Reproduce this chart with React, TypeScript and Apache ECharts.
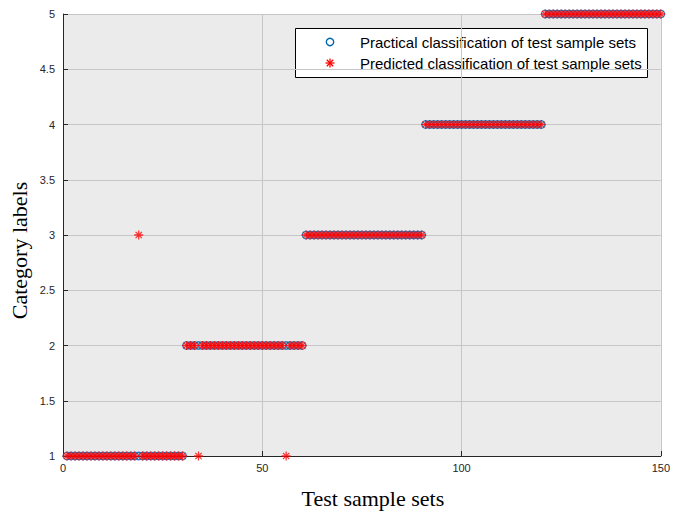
import React, { useEffect, useRef } from "react";
import * as echarts from "echarts";

const sampleIndex: number[] = [
  1, 2, 3, 4, 5, 6, 7, 8, 9, 10, 11, 12, 13, 14, 15, 16, 17, 18, 19, 20, 21, 22, 23, 24, 25, 26, 27, 28, 29, 30,
  31, 32, 33, 34, 35, 36, 37, 38, 39, 40, 41, 42, 43, 44, 45, 46, 47, 48, 49, 50, 51, 52, 53, 54, 55, 56, 57, 58, 59, 60,
  61, 62, 63, 64, 65, 66, 67, 68, 69, 70, 71, 72, 73, 74, 75, 76, 77, 78, 79, 80, 81, 82, 83, 84, 85, 86, 87, 88, 89, 90,
  91, 92, 93, 94, 95, 96, 97, 98, 99, 100, 101, 102, 103, 104, 105, 106, 107, 108, 109, 110, 111, 112, 113, 114, 115, 116, 117, 118, 119, 120,
  121, 122, 123, 124, 125, 126, 127, 128, 129, 130, 131, 132, 133, 134, 135, 136, 137, 138, 139, 140, 141, 142, 143, 144, 145, 146, 147, 148, 149, 150,
];

const practicalClass: number[] = [
  1, 1, 1, 1, 1, 1, 1, 1, 1, 1, 1, 1, 1, 1, 1, 1, 1, 1, 1, 1, 1, 1, 1, 1, 1, 1, 1, 1, 1, 1,
  2, 2, 2, 2, 2, 2, 2, 2, 2, 2, 2, 2, 2, 2, 2, 2, 2, 2, 2, 2, 2, 2, 2, 2, 2, 2, 2, 2, 2, 2,
  3, 3, 3, 3, 3, 3, 3, 3, 3, 3, 3, 3, 3, 3, 3, 3, 3, 3, 3, 3, 3, 3, 3, 3, 3, 3, 3, 3, 3, 3,
  4, 4, 4, 4, 4, 4, 4, 4, 4, 4, 4, 4, 4, 4, 4, 4, 4, 4, 4, 4, 4, 4, 4, 4, 4, 4, 4, 4, 4, 4,
  5, 5, 5, 5, 5, 5, 5, 5, 5, 5, 5, 5, 5, 5, 5, 5, 5, 5, 5, 5, 5, 5, 5, 5, 5, 5, 5, 5, 5, 5,
];

const predictedClass: number[] = [
  1, 1, 1, 1, 1, 1, 1, 1, 1, 1, 1, 1, 1, 1, 1, 1, 1, 1, 3, 1, 1, 1, 1, 1, 1, 1, 1, 1, 1, 1,
  2, 2, 2, 1, 2, 2, 2, 2, 2, 2, 2, 2, 2, 2, 2, 2, 2, 2, 2, 2, 2, 2, 2, 2, 2, 1, 2, 2, 2, 2,
  3, 3, 3, 3, 3, 3, 3, 3, 3, 3, 3, 3, 3, 3, 3, 3, 3, 3, 3, 3, 3, 3, 3, 3, 3, 3, 3, 3, 3, 3,
  4, 4, 4, 4, 4, 4, 4, 4, 4, 4, 4, 4, 4, 4, 4, 4, 4, 4, 4, 4, 4, 4, 4, 4, 4, 4, 4, 4, 4, 4,
  5, 5, 5, 5, 5, 5, 5, 5, 5, 5, 5, 5, 5, 5, 5, 5, 5, 5, 5, 5, 5, 5, 5, 5, 5, 5, 5, 5, 5, 5,
];

const seriesNames = [
  "Practical classification of test sample sets",
  "Predicted classification of test sample sets",
];

const xTickMin = 0;
const xTickMax = 150;
const xTickStep = 50;
const yTickMin = 1;
const yTickMax = 5;
const yTickStep = 0.5;

const asteriskPath =
  "path://M0,4.3 L10,4.3 L10,5.7 L0,5.7 Z " +
  "M4.3,0 L5.7,0 L5.7,10 L4.3,10 Z " +
  "M1.99,1.0 L9.0,8.01 L8.01,9.0 L1.0,1.99 Z " +
  "M8.01,1.0 L9.0,1.99 L1.99,9.0 L1.0,8.01 Z";

export default function App() {
  const ref = useRef<HTMLDivElement>(null);
  useEffect(() => {
    if (!ref.current) return;
    const chart = echarts.init(ref.current, undefined, { renderer: "svg" });
    const axisColor = "#262626";
    const blue = "#0066b0";
    const red = "#ff0000";
    const circleStyle = { color: "rgba(0,0,0,0)", borderColor: blue, borderWidth: 1.4 };
    const legendX = 295;
    const legendY = 28;
    const iconX = 330;
    const textX = 360;
    const rowY = [42, 63];
    const s = 4.5;
    const d = 3.2;
    const starLine = (x1: number, y1: number, x2: number, y2: number) => ({
      type: "line",
      shape: { x1, y1, x2, y2 },
      style: { stroke: red, lineWidth: 1.3 },
      silent: true,
    });
    chart.setOption({
      animation: false,
      backgroundColor: "#ffffff",
      grid: {
        left: 63,
        right: 12,
        top: 14,
        bottom: 57,
        show: true,
        backgroundColor: "#ebebeb",
        borderWidth: 0,
      },
      graphic: [
        {
          type: "group",
          z: 100,
          children: [
            {
              type: "rect",
              shape: { x: legendX + 0.5, y: legendY + 0.5, width: 352, height: 49 },
              style: { fill: "#ffffff", stroke: "#000000", lineWidth: 1 },
              silent: true,
            },
            {
              type: "circle",
              shape: { cx: iconX, cy: rowY[0], r: 3.7 },
              style: { fill: "none", stroke: blue, lineWidth: 1.4 },
              silent: true,
            },
            starLine(iconX - s, rowY[1], iconX + s, rowY[1]),
            starLine(iconX, rowY[1] - s, iconX, rowY[1] + s),
            starLine(iconX - d, rowY[1] - d, iconX + d, rowY[1] + d),
            starLine(iconX - d, rowY[1] + d, iconX + d, rowY[1] - d),
            {
              type: "text",
              x: textX,
              y: rowY[0],
              style: {
                text: seriesNames[0],
                fontFamily: "Liberation Sans, Arial, sans-serif",
                fontSize: 15,
                fill: "#000000",
                verticalAlign: "middle",
                align: "left",
              },
              silent: true,
            },
            {
              type: "text",
              x: textX,
              y: rowY[1],
              style: {
                text: seriesNames[1],
                fontFamily: "Liberation Sans, Arial, sans-serif",
                fontSize: 15,
                fill: "#000000",
                verticalAlign: "middle",
                align: "left",
              },
              silent: true,
            },
          ],
        },
      ],
      xAxis: {
        type: "value",
        min: xTickMin,
        max: xTickMax,
        interval: xTickStep,
        name: "Test sample sets",
        nameLocation: "middle",
        nameGap: 31,
        nameMoveOverlap: false,
        nameTextStyle: {
          fontFamily: "Liberation Serif, Times New Roman, serif",
          fontSize: 22,
          color: "#000000",
          verticalAlign: "top",
          padding: [0, 0, 0, 22],
        },
        axisLine: { show: true, lineStyle: { color: axisColor, width: 1 } },
        axisTick: { show: true, inside: true, length: 5, lineStyle: { color: axisColor } },
        axisLabel: {
          fontFamily: "Liberation Sans, Arial, sans-serif",
          fontSize: 11,
          color: axisColor,
          margin: 6,
        },
        splitLine: { show: true, lineStyle: { color: "#c6c6c6", width: 1 } },
      },
      yAxis: {
        type: "value",
        min: yTickMin,
        max: yTickMax,
        interval: yTickStep,
        name: "Category labels",
        nameLocation: "middle",
        nameGap: 33,
        nameMoveOverlap: false,
        nameRotate: 90,
        nameTextStyle: {
          fontFamily: "Liberation Serif, Times New Roman, serif",
          fontSize: 22,
          color: "#000000",
          padding: [0, 31, 0, 0],
        },
        axisLine: { show: true, lineStyle: { color: axisColor, width: 1 } },
        axisTick: { show: true, inside: true, length: 5, lineStyle: { color: axisColor } },
        axisLabel: {
          fontFamily: "Liberation Sans, Arial, sans-serif",
          fontSize: 11,
          color: axisColor,
          margin: 8,
        },
        splitLine: { show: true, lineStyle: { color: "#c6c6c6", width: 1 } },
      },
      series: [
        {
          name: seriesNames[0],
          type: "scatter",
          symbol: "circle",
          symbolSize: 7.5,
          itemStyle: circleStyle,
          data: sampleIndex.map((x, i) => [x, practicalClass[i]]),
          z: 2,
        },
        {
          name: seriesNames[1],
          type: "scatter",
          symbol: asteriskPath,
          symbolSize: 9,
          itemStyle: { color: red, borderWidth: 0 },
          data: sampleIndex.map((x, i) => [x, predictedClass[i]]),
          z: 3,
        },
      ],
    });
    return () => chart.dispose();
  }, []);
  return <div ref={ref} style={{ width: 673, height: 514, position: "absolute", left: 0, top: 0 }} />;
}
